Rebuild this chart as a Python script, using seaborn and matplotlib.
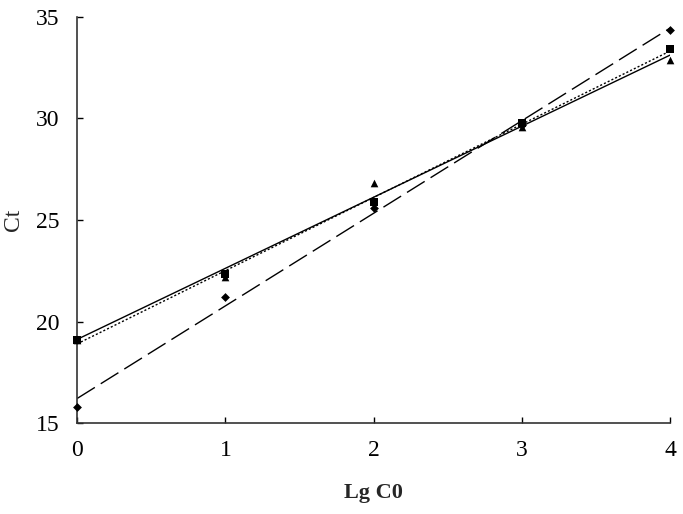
import numpy as np
import pandas as pd
import seaborn as sns
import matplotlib.pyplot as plt

# data
lg_c0 = [0, 1, 2, 3, 4]
ct_diamond = [15.8, 21.2, 25.6, 29.7, 34.35]
ct_square = [19.1, 22.35, 25.9, 29.8, 33.4]
ct_triangle = [19.1, 22.2, 26.8, 29.6, 32.9]

sns.set_style("ticks")
plt.rcParams['font.family'] = ['Liberation Serif', 'DejaVu Serif']

fig = plt.figure(figsize=(6.83, 5.14), dpi=100)
ax = fig.add_axes([0.113, 0.177, 0.868, 0.790])

series = [
    (ct_diamond, "D", 4.5, (0, (15, 5))),
    (ct_square, "s", 5.5, (0, (1.5, 1.5))),
    (ct_triangle, "^", 5.5, "-"),
]
for ct, mk, ms, ls in series:
    df = pd.DataFrame({"x": lg_c0, "y": ct})
    sns.regplot(data=df, x="x", y="y", ax=ax, ci=None, color="black",
                marker=mk, truncate=True,
                scatter_kws={"s": ms ** 2, "linewidths": 0, "zorder": 3,
                             "alpha": 1, "clip_on": False},
                line_kws={"linewidth": 1.0, "linestyle": ls})

ax.set_xlim(0, 4)
ax.set_ylim(15, 35)
ax.set_xticks([0, 1, 2, 3, 4])
ax.set_yticks([15, 20, 25, 30, 35])
ax.tick_params(direction="in", length=4, width=1, labelsize=17, colors="black")
ax.tick_params(axis="y", pad=13)
ax.tick_params(axis="x", pad=12)
for s in ["left", "bottom"]:
    ax.spines[s].set_color("#333333")
    ax.spines[s].set_linewidth(1.2)
sns.despine(ax=ax)
ax.set_xlabel("Lg C0", fontsize=16, fontweight="bold", labelpad=16)
ax.set_ylabel("Ct", fontsize=17, labelpad=8)

fig.savefig("out.png", dpi=100)
